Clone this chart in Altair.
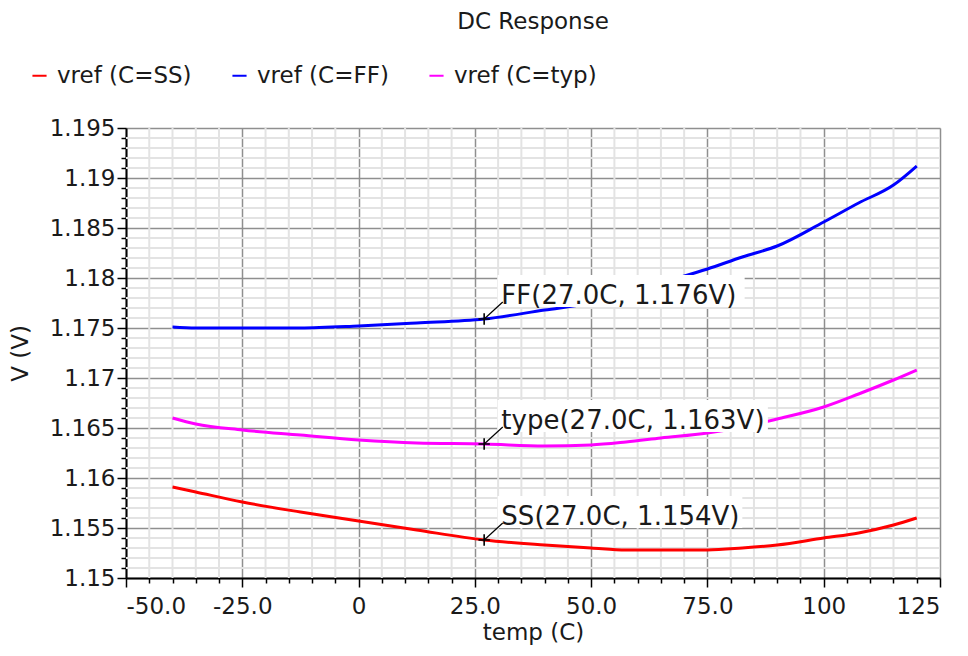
import altair as alt
import pandas as pd
import numpy as np

# ---- data ----
temp = [-40, -35, -25, -12.5, 0, 12.5, 27, 40, 50, 57.5, 65, 75, 82.5, 90, 100, 107.5, 115, 120]
v_ss = [1.1591, 1.1586, 1.1576, 1.1566, 1.1557, 1.1548, 1.1538, 1.1533, 1.1530, 1.1528,
        1.1528, 1.1528, 1.1530, 1.1533, 1.1540, 1.1545, 1.1553, 1.1560]
v_ff = [1.1751, 1.1750, 1.1750, 1.1750, 1.1752, 1.1755, 1.1759, 1.1768, 1.1775, 1.1784,
        1.1795, 1.1809, 1.1821, 1.1832, 1.1856, 1.1875, 1.1893, 1.1912]
v_typ = [1.1660, 1.1654, 1.1648, 1.1643, 1.1638, 1.1635, 1.1634, 1.1632, 1.1633, 1.1636,
         1.1640, 1.1645, 1.1651, 1.1659, 1.1671, 1.1684, 1.1698, 1.1708]
series = ["vref (C=SS)", "vref (C=FF)", "vref (C=typ)"]
colors = ["#ff0000", "#0000ff", "#ff00ff"]

ann_text = ["FF(27.0C, 1.176V)", "type(27.0C, 1.163V)", "SS(27.0C, 1.154V)"]
ann_t = [27.0, 27.0, 27.0]
ann_v = [1.1759, 1.1634, 1.1538]
ann_box_end = [83.0, 88.0, 82.5]

major_x = [-50, -25, 0, 25, 50, 75, 100, 125]
major_y = [1.15, 1.155, 1.16, 1.165, 1.17, 1.175, 1.18, 1.185, 1.19, 1.195]

FONT = "DejaVu Sans"
TXT = "#1a1a1a"

rows = []
for name, vals in zip(series, [v_ss, v_ff, v_typ]):
    for t, v in zip(temp, vals):
        rows.append({"temp": t, "V": v, "series": name})
df = pd.DataFrame(rows)

ann = pd.DataFrame({"label": ann_text, "t": ann_t, "v": ann_v, "bend": ann_box_end})
ann["bx"] = ann["t"] + 2.9
ann["by"] = ann["v"] + 0.0012
ann["by2"] = ann["v"] + 0.0044
ann["lx2"] = ann["t"] + 4.0
ann["ly2"] = ann["v"] + 0.0017
ann["tx"] = ann["t"] + 3.7
ann["ty"] = ann["v"] + 0.0015

minor_x = [float(v) for v in np.arange(-50, 125.1, 5) if round(v) % 25 != 0]
minor_y = [round(1.15 + 0.001 * i, 3) for i in range(46) if i % 5 != 0]

xs = alt.Scale(domain=[-50, 125], nice=False, zero=False)
ys = alt.Scale(domain=[1.15, 1.195], nice=False, zero=False)

minor_x_layer = alt.Chart(pd.DataFrame({"mx": minor_x})).mark_rule(
    color="#e3e3e3", strokeWidth=2
).encode(
    x=alt.X("mx:Q", scale=xs, axis=alt.Axis(values=minor_x, orient="bottom", labels=False,
                                             domain=False, grid=False, ticks=True, tickSize=5,
                                             tickColor="black", tickWidth=1.5, title=None))
)
minor_y_layer = alt.Chart(pd.DataFrame({"my": minor_y})).mark_rule(
    color="#e3e3e3", strokeWidth=2
).encode(
    y=alt.Y("my:Q", scale=ys, axis=alt.Axis(values=minor_y, orient="left", labels=False,
                                             domain=False, grid=False, ticks=True, tickSize=5,
                                             tickColor="black", tickWidth=1.5, title=None))
)

x_label_expr = ("replace(datum.value == 0 ? '0' : (abs(datum.value) >= 100 ? "
                "format(datum.value, 'd') : format(datum.value, '.1f')), '\u2212', '-')")

lines = alt.Chart(df).mark_line(strokeWidth=3, interpolate="monotone").encode(
    x=alt.X("temp:Q", scale=xs, axis=alt.Axis(
        values=major_x, orient="bottom", grid=True, gridColor="#8f8f8f", gridWidth=1.5,
        tickSize=9, tickColor="black", tickWidth=1.5, domainColor="black", domainWidth=2,
        labelExpr=x_label_expr, labelFont=FONT, labelFontSize=23, labelColor=TXT,
        labelPadding=8, title="temp (C)", titleFont=FONT, titleFontSize=23,
        titleFontWeight="normal", titleColor=TXT, titleY=43, titleBaseline="top")),
    y=alt.Y("V:Q", scale=ys, axis=alt.Axis(
        values=major_y, orient="left", grid=True, gridColor="#8f8f8f", gridWidth=1.5,
        tickSize=9, tickColor="black", tickWidth=1.5, domainColor="black", domainWidth=2,
        format=".3~f", labelFont=FONT, labelFontSize=23, labelColor=TXT, labelPadding=2,
        title="V (V)", titleFont=FONT, titleFontSize=23, titleFontWeight="normal",
        titleColor=TXT, titleX=-106, titleY=225, titleBaseline="middle", titleAlign="center")),
    color=alt.Color("series:N", scale=alt.Scale(domain=series, range=colors),
                    legend=alt.Legend(orient="none", legendX=-98, legendY=-64,
                                      direction="horizontal", title=None,
                                      symbolType="stroke", symbolStrokeWidth=2,
                                      symbolSize=200, labelFont=FONT, labelFontSize=23,
                                      labelColor=TXT, columnPadding=36, labelOffset=6)),
    order=alt.Order("temp:Q"),
)

boxes = alt.Chart(ann).mark_rect(color="white", opacity=1).encode(
    x=alt.X("bx:Q", scale=xs, axis=None), x2="bend:Q",
    y=alt.Y("by:Q", scale=ys, axis=None), y2="by2:Q",
)
leaders = alt.Chart(ann).mark_rule(color="black", strokeWidth=1.2).encode(
    x=alt.X("t:Q", scale=xs, axis=None), x2="lx2:Q",
    y=alt.Y("v:Q", scale=ys, axis=None), y2="ly2:Q",
)
markers = alt.Chart(ann).mark_point(
    shape="M-1,0L1,0M0,-1L0,1", size=130, filled=False, color="black", strokeWidth=1.6, opacity=1
).encode(
    x=alt.X("t:Q", scale=xs, axis=None),
    y=alt.Y("v:Q", scale=ys, axis=None),
)
texts = alt.Chart(ann).mark_text(
    align="left", baseline="alphabetic", font=FONT, fontSize=26, color=TXT
).encode(
    x=alt.X("tx:Q", scale=xs, axis=None),
    y=alt.Y("ty:Q", scale=ys, axis=None),
    text="label:N",
)

chart = alt.layer(
    minor_x_layer, minor_y_layer, lines, boxes, leaders, markers, texts
).resolve_axis(
    x="independent", y="independent"
).properties(
    width=814, height=450,
    autosize=alt.AutoSizeParams(type="none"),
    padding={"left": 118, "top": 120, "right": 20, "bottom": 70},
    title=alt.TitleParams("DC Response", font=FONT, fontSize=23, fontWeight="normal",
                          color=TXT, anchor="middle", offset=30),
).configure_view(
    stroke="black", strokeWidth=2
).configure(background="white")

chart.save("out.html", embed_options={"renderer": "svg", "actions": False})
